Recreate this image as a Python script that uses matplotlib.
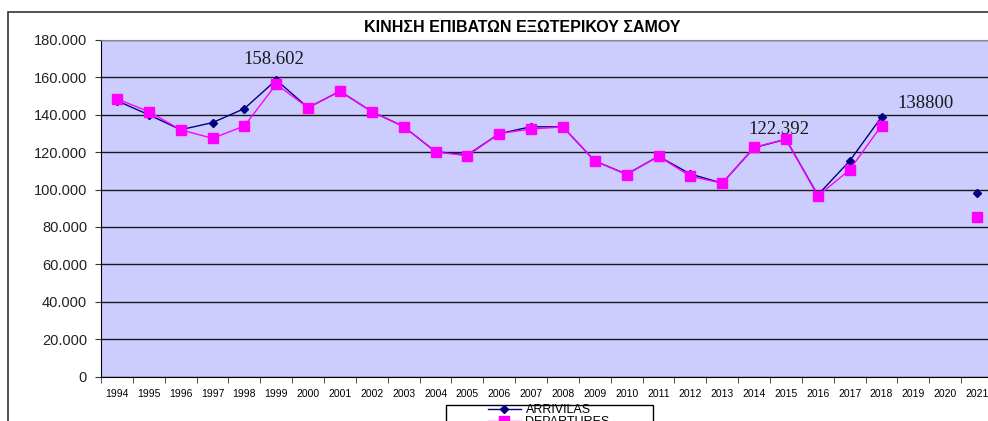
import numpy as np
import matplotlib
matplotlib.use("Agg")
import matplotlib.pyplot as plt
from matplotlib.patches import Rectangle
from matplotlib.ticker import FuncFormatter, FixedLocator

years = [str(y) for y in range(1994, 2022)]
arrivals = [147500, 140000, 132000, 135800, 143300, 158602, 143800, 152600,
            141700, 133700, 120300, 118500, 129900, 133600, 133500, 115300,
            108200, 117800, 108300, 103400, 122392, 126900, 97100, 115300,
            138800, np.nan, np.nan, 98200]
departures = [148500, 141700, 132000, 127400, 134000, 156300, 143800, 152600,
              141700, 133700, 120100, 118100, 129900, 132400, 133500, 115300,
              108000, 117800, 107100, 103400, 122600, 126900, 96600, 110500,
              134200, np.nan, np.nan, 85500]
labels = {1999: "158.602", 2014: "122.392", 2018: "138800"}
title = "ΚΙΝΗΣΗ ΕΠΙΒΑΤΩΝ ΕΞΩΤΕΡΙΚΟΥ ΣΑΜΟΥ"

W, H = 988, 421
fig = plt.figure(figsize=(W / 100, H / 100), dpi=100)
fig.patch.set_facecolor("white")

# outer chart frame
fig.patches.append(Rectangle((8 / W, -0.1), 1.2, 1 - 12 / H + 0.1, transform=fig.transFigure,
                             fill=False, edgecolor="#333333", linewidth=1.2))
# legend frame
fig.patches.append(Rectangle((446 / W, -0.1), (653 - 446) / W, 1 - 405 / H + 0.1,
                             transform=fig.transFigure, fill=True, facecolor="white",
                             edgecolor="black", linewidth=1.0, zorder=5))

ax = fig.add_axes([101 / W, 1 - 376.5 / H, (993 - 101) / W, 336.5 / H])
ax.set_facecolor("#CCCCFF")
x = np.arange(len(years))

ax.set_ylim(0, 180000)
ax.set_xlim(-0.5, len(years) - 0.5)
ax.yaxis.set_major_locator(FixedLocator(np.arange(0, 180001, 20000)))
ax.yaxis.set_major_formatter(FuncFormatter(lambda v, p: f"{int(v):,}".replace(",", ".")))
ax.grid(axis="y", color="#1a1a1a", linewidth=1.0)
ax.set_axisbelow(True)

ax.plot(x, arrivals, color="#000080", linewidth=1.0, marker="D", markersize=4,
        markerfacecolor="#000080", markeredgecolor="#000080", label="ARRIVILAS", zorder=3)
ax.plot(x, departures, color="#FF00FF", linewidth=1.0, marker="s", markersize=7,
        markerfacecolor="#FF00FF", markeredgecolor="#FF00FF", label="DEPARTURES", zorder=4)

offsets = {1999: (-2, 15), 2014: (18, 13), 2018: (32, 9.5)}
for yr, txt in labels.items():
    i = yr - 1994
    ax.annotate(txt, (i, arrivals[i]), xytext=offsets[yr], textcoords="offset points",
                ha="center", va="center", fontsize=13.5, family="Liberation Serif",
                color="#1a1a1a")

ax.set_xticks(x)
ax.set_xticklabels(years, fontsize=7.5, family="Liberation Sans")
ax.xaxis.set_minor_locator(FixedLocator(np.arange(-0.5, len(years), 1)))
ax.tick_params(axis="x", which="major", length=0, pad=9)
ax.tick_params(axis="x", which="minor", length=4, direction="out", color="#333333")
ax.tick_params(axis="y", length=4, direction="out", labelsize=10.5, pad=6, color="#333333")
for lab in ax.get_yticklabels():
    lab.set_family("Liberation Sans")
    lab.set_color("#222222")

ax.spines["left"].set_color("black")
ax.spines["bottom"].set_color("black")
ax.spines["top"].set_color("#888888")
ax.spines["right"].set_visible(False)

fig.text(522 / W, 1 - 27 / H, title, ha="center", va="center", fontsize=11.5,
         fontweight="bold", family="Liberation Sans")

handles, labs = ax.get_legend_handles_labels()
leg = fig.legend(handles, labs, loc="upper left", bbox_to_anchor=(488 / W, 1 - 404 / H),
                 frameon=False, borderpad=0.0, labelspacing=0.0, handlelength=2.6,
                 handletextpad=0.4, borderaxespad=0,
                 prop={"family": "Liberation Sans", "size": 9})
leg.set_zorder(6)

fig.savefig("out.png", dpi=100)
